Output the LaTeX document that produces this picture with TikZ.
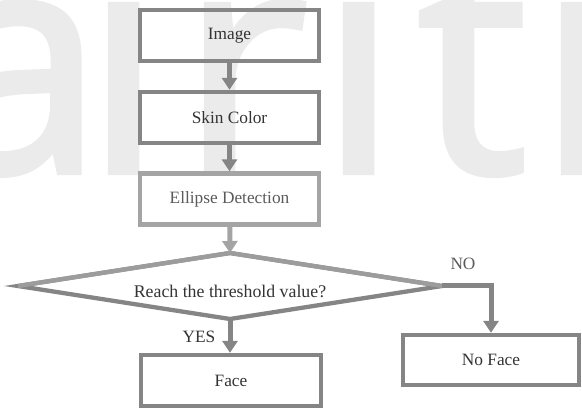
\documentclass[tikz,border=0pt]{standalone}
\usepackage{fontspec}
\setmainfont{Liberation Serif}
\newfontfamily\wmfont[FakeBold=2]{Open Sans}
\usetikzlibrary{shapes.geometric,arrows.meta}
\definecolor{boxgray}{HTML}{858585}
\definecolor{lightgray}{HTML}{A4A4A4}
\definecolor{uppergray}{HTML}{9C9C9C}
\definecolor{txtdark}{HTML}{333333}
\definecolor{txtmid}{HTML}{5A5A5A}
\definecolor{wmgray}{HTML}{EBEBEB}
\tikzset{
  wm/.style={anchor=base west, inner sep=0pt, text=wmgray, font=\wmfont\fontsize{312}{312}\selectfont},
  procbox/.style={draw=boxgray, line width=4.3pt, minimum width=179pt, minimum height=51pt, inner sep=0pt, text=txtdark, font=\fontsize{17.3}{20}\selectfont},
  lightbox/.style={procbox, draw=lightgray, text=txtmid},
  flow/.style={draw=boxgray, line width=5pt, -{Triangle[width=15pt,length=12pt]}},
  lightflow/.style={flow, draw=lightgray},
  lbl/.style={inner sep=0pt, font=\fontsize{17.3}{20}\selectfont},
}
\begin{document}
\begin{tikzpicture}[x=1pt,y=-1pt]
\useasboundingbox (0,0) rectangle (582,411);
\clip (0,0) rectangle (582,411);
% watermark
\node[wm] (wm1) at (-70,172) {a};
\node[wm] (wm2) at (84,172) {i};
\node[wm] (wm3) at (180,172) {r};
\node[wm] (wm4) at (319,172) {i};
\node[wm] (wm5) at (417,172) {t};
\node[wm] (wm6) at (537,172) {r};
% boxes
\node[procbox] (img) at (229.5,35.5) {Image};
\node[procbox] (skin) at (229.5,117.5) {Skin Color};
\node[lightbox] (ell) at (229.5,199) {Ellipse Detection};
\node[diamond, draw=boxgray, line width=4.3pt, aspect=6.4, minimum width=424pt, minimum height=66pt, inner sep=0pt, outer sep=0pt, text=txtdark, font=\fontsize{17.8}{20}\selectfont] (dec) at (230,286) {\raisebox{-12pt}[0pt][0pt]{Reach the threshold value?}};
\draw[uppergray, line width=4.3pt] (dec.west) -- (dec.north) -- (dec.east);
\node[procbox, minimum width=180pt] (face) at (231,380.5) {Face};
\node[procbox, minimum width=176pt, minimum height=50pt] (noface) at (491,360) {No Face};
% connectors
\draw[flow] (img) -- (skin);
\draw[flow] (skin) -- (ell);
\draw[lightflow] (ell) -- (dec.north);
\draw[flow] (dec.south) -- (dec.south |- face.north);
\draw[flow] (dec.east) -| (noface.north);
% labels
\node[lbl, text=txtdark] (yes) at (199,337) {YES};
\node[lbl, text=txtmid] (no) at (463,264) {NO};
\end{tikzpicture}
\end{document}
